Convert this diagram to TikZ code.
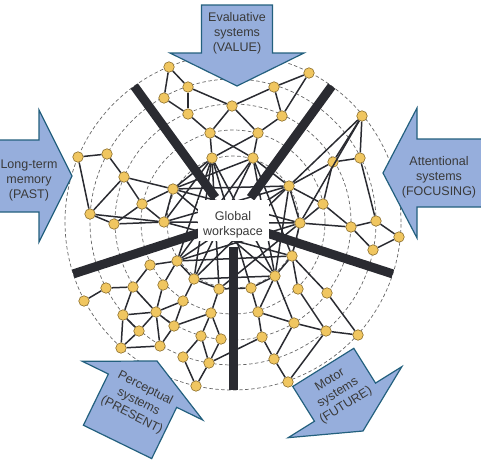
\documentclass[tikz,border=0pt]{standalone}
\usepackage{fontspec}
\setmainfont{Liberation Sans}
\usetikzlibrary{calc}

\definecolor{arrowfill}{HTML}{96AEDC}
\definecolor{arrowline}{HTML}{23607E}
\definecolor{unitfill}{HTML}{F0C660}
\definecolor{unitline}{HTML}{8C6E2A}
\definecolor{linkcol}{HTML}{2A2B31}
\definecolor{labelcol}{HTML}{3A3A3A}

\tikzset{
  sysarrow/.style={fill=arrowfill,draw=arrowline,line width=1.2pt},
  syslabel/.style={align=center,text=labelcol,inner sep=0pt,font=\fontsize{12.5}{15}\selectfont},
  ring/.style={draw=gray!80!black,line width=0.7pt,dash pattern=on 3.5pt off 2.5pt},
  spoke/.style={draw=linkcol,line width=9pt},
  wsbox/.style={fill=white,inner sep=0pt,minimum width=71pt,minimum height=41pt}
}

% tip, angle, head length, head half width, shaft half width, shaft length
\newcommand\sysarrow[6]{%
  \draw[sysarrow,shift={#1},rotate=#2] (0,0) -- (-#3,#4) -- (-#3,#5) -- ({-#3-#6},#5)
    -- ({-#3-#6},-#5) -- (-#3,-#5) -- (-#3,-#4) -- cycle;}

\begin{document}
\begin{tikzpicture}[x=1pt,y=-1pt]
\useasboundingbox (0,0) rectangle (481,464);
\clip (0,0) rectangle (481,464);

\coordinate (wc) at (233,222);
\foreach \r in {66,92,118,143,168}
  \draw[ring] (wc) circle[radius=\r pt];

% the five input/output systems
\sysarrow{(237,86)}{-90}{33}{67}{35.5}{48}
\sysarrow{(72,176)}{0}{33}{66}{36}{50}
\sysarrow{(383,173)}{180}{34}{65}{34}{70}
\sysarrow{(157,361)}{64}{33}{67}{38}{57}
\sysarrow{(363,431)}{-58}{34}{67}{36}{41}

\node[syslabel] (value) at (237,33.5) {Evaluative\\systems\\(VALUE)};
\node[syslabel] (past) at (29,180) {Long-term\\memory\\(PAST)};
\node[syslabel] (focus) at (439,177) {Attentional\\systems\\(FOCUSING)};
\node[syslabel,rotate=-27] (present) at (138.5,402) {Perceptual\\systems\\(PRESENT)};
\node[syslabel,rotate=32] (future) at (338,393) {Motor\\systems\\(FUTURE)};

\begin{scope}[every node/.style={circle,draw=unitline,fill=unitfill,line width=0.6pt,inner sep=0pt,minimum size=10.5pt}]
  \foreach \n/\x/\y in {t1/169/67,t2/188/87,t3/164/98,t4/188/114,t5/232/106,t6/274/87,
      t7/309/73,t8/282/116,t9/210/133,t10/258/133,t11/212/158,t12/253/158}
    \node (\n) at (\x,\y) {};
  \foreach \n/\x/\y in {r1/362/116,r2/333/162,r3/360/158,r4/289/186,r5/323/204,r6/300/223,
      r7/351/227,r8/376/221,r9/399/237,r10/373/250}
    \node (\n) at (\x,\y) {};
  \foreach \n/\x/\y in {m1/292/256,m2/275/276,m3/251/288,m4/298/289,m5/327/293,m6/258/312,
      m7/294/323,m8/326/331,m9/358/335,m10/262/337,m11/274/359,m12/288/382}
    \node (\n) at (\x,\y) {};
  \foreach \n/\x/\y in {p1/177/261,p2/150/265,p3/194/279,p4/219/289,p5/163/285,p6/133/287,
      p7/106/288,p8/84/301,p9/183/301,p10/156/312,p11/123/315,p12/211/313,p13/174/326,
      p14/139/331,p15/201/336,p16/221/339,p17/121/348,p18/160/346,p19/183/357,p20/209/363,
      p21/196/386}
    \node (\n) at (\x,\y) {};
  \foreach \n/\x/\y in {l1/78/157,l2/107/154,l3/124/177,l4/173/189,l5/142/204,l6/90/214,
      l7/114/224,l8/164/222}
    \node (\n) at (\x,\y) {};
\end{scope}

\begin{scope}[every edge/.style={draw=linkcol,line width=1.5pt}]
  % value
  \foreach \a/\b in {t1/t2,t1/t3,t3/t4,t2/t4,t2/t5,t4/t9,t5/t9,t5/t6,t5/t10,t6/t7,t6/t8,
      t7/t8,t8/t10,t9/t11,t10/t12,t9/t12,t10/t11}
    \path (\a) edge (\b);
  % focusing
  \foreach \a/\b in {r1/r3,r1/r2,r1/r4,r1/r6,r2/r3,r2/r5,r2/r4,r3/r8,r4/r5,r4/r6,r5/r7,
      r5/r6,r6/r7,r7/r8,r8/r9,r9/r10,r7/r10}
    \path (\a) edge (\b);
  % future
  \foreach \a/\b in {m1/m2,m1/m4,m1/m5,m2/m3,m2/m6,m2/m7,m3/m6,m4/m8,m5/m9,m6/m7,m6/m10,
      m7/m8,m7/m11,m8/m9,m10/m11,m8/m12,m11/m12}
    \path (\a) edge (\b);
  % present
  \foreach \a/\b in {p8/p7,p7/p6,p6/p2,p2/p1,p6/p11,p6/p10,p5/p10,p1/p5,p1/p3,p3/p4,p3/p9,
      p4/p12,p9/p10,p9/p13,p10/p11,p10/p14,p10/p13,p10/p18,p11/p17,p11/p14,p14/p17,
      p17/p18,p13/p18,p13/p12,p12/p15,p12/p16,p15/p19,p15/p20,p16/p20,p19/p21,p20/p21}
    \path (\a) edge (\b);
  % past
  \foreach \a/\b in {l1/l2,l1/l6,l2/l3,l3/l4,l3/l5,l3/l6,l4/l5,l4/l8,l5/l7,l5/l8,l6/l7,
      l6/l8,l7/l8}
    \path (\a) edge (\b);
  % long-range links through the workspace
  \foreach \a/\b in {t11/l4,t11/l8,t11/p1,t11/p3,t11/p4,t11/m3,t11/m2,t12/l4,t12/p1,
      t12/p3,t12/m1,t12/m2,t12/r4,r4/l8,r4/p1,r4/p3,r4/m2,r4/l4,l4/r6,l4/m2,l8/r6,l8/m1,
      p1/m1,p1/r6,p3/m2,p4/m3,p4/r6,m10/p20,m1/r6}
    \path (\a) edge (\b);
\end{scope}

\foreach \a/\r in {90/25,18/30,-54/30,-126/30,-198/30}
  \draw[spoke] ($(wc)+(\a:\r)$) -- ($(wc)+(\a:168)$);

\node[wsbox] (ws) at (233,220.5) {};
\node[syslabel] (wstext) at (233,224.5) {Global\\workspace};
\end{tikzpicture}
\end{document}
